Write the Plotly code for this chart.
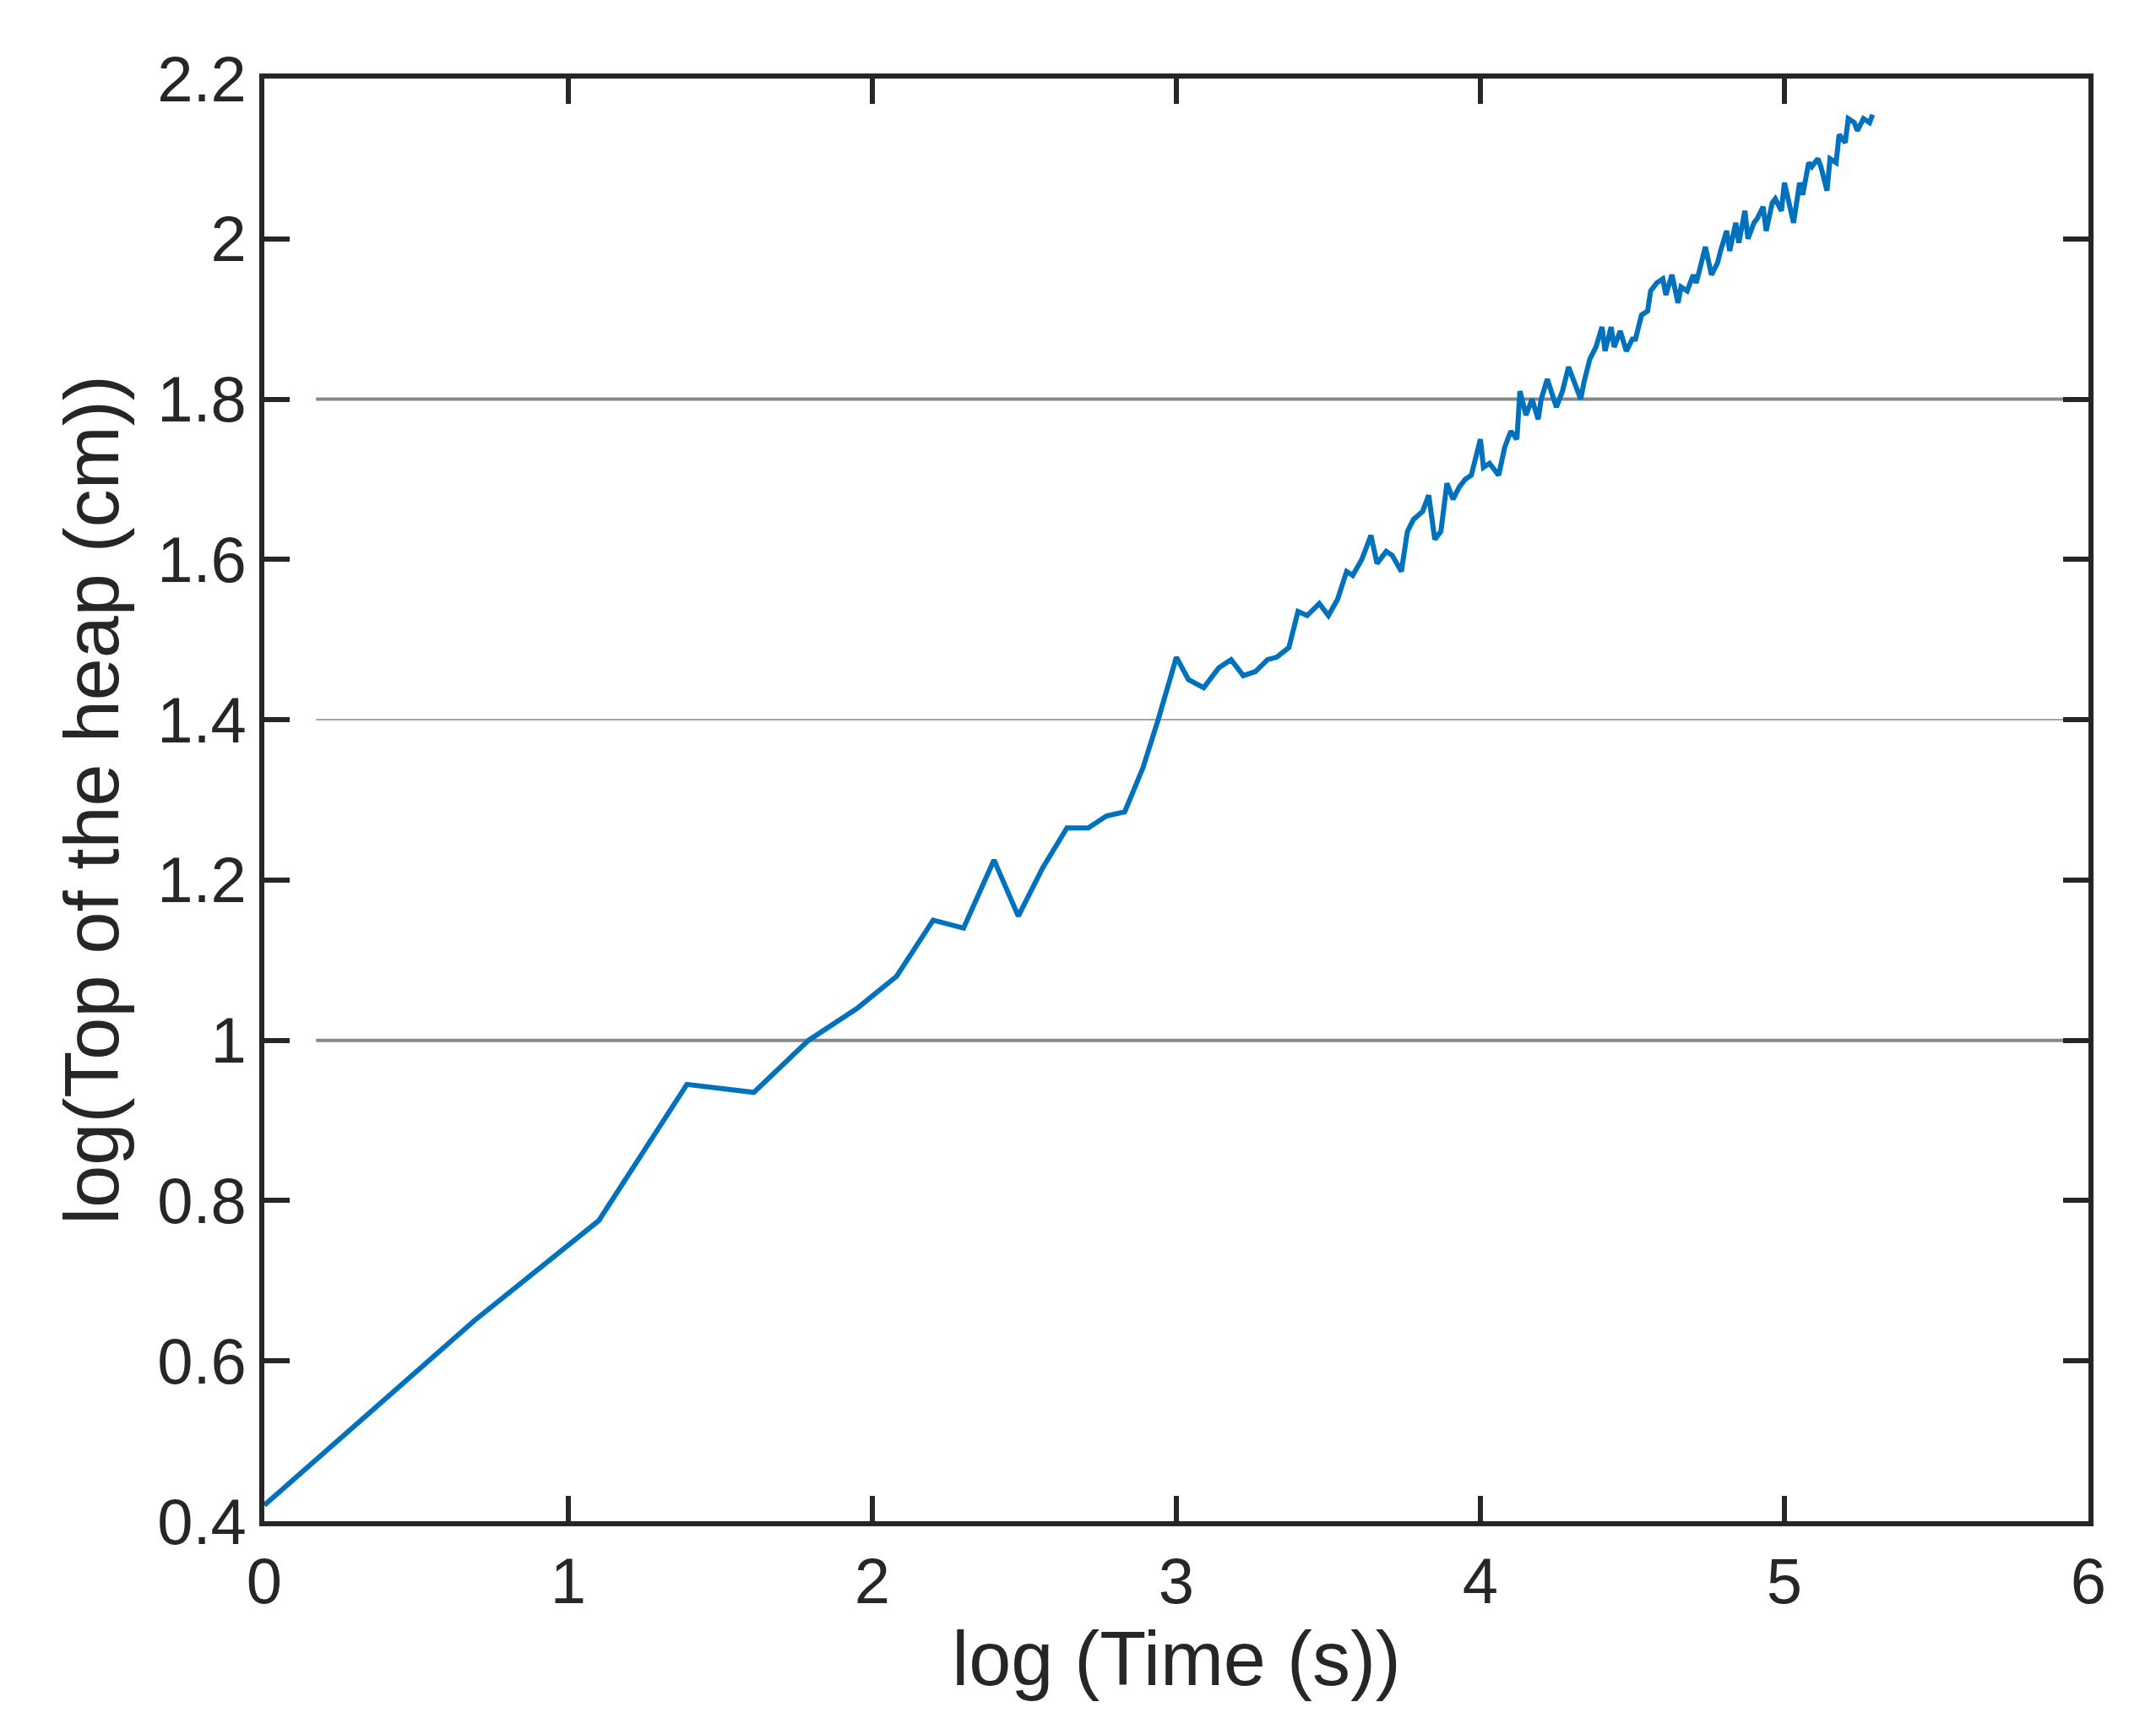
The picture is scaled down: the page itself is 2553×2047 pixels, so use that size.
import plotly.graph_objects as go

x_vals = [0, 0.69, 1.10, 1.39, 1.61, 1.79, 1.95, 2.08, 2.20, 2.30, 2.40, 2.48, 2.56, 2.64, 2.71, 2.77, 2.83, 2.89, 2.94, 3.00,
          3.04, 3.09, 3.14, 3.18, 3.22, 3.26, 3.30, 3.33, 3.37, 3.40, 3.43, 3.47, 3.50, 3.53, 3.56, 3.58, 3.61, 3.64, 3.66,
          3.69, 3.71, 3.74, 3.76, 3.78, 3.81, 3.83, 3.85, 3.87, 3.89, 3.91, 3.93,
          3.95,3.97,4.0,4.01,4.03,4.06,4.08,4.1,4.12,4.13,4.15,4.17,4.19,4.2,4.22,4.25,4.27,4.29,4.3,4.33,4.34,4.36,4.38,4.4,
          4.41,4.43,4.44,4.46,4.48,4.5,4.51,4.53,4.55,4.56,4.58,4.6,4.61,4.63,4.65,4.66,4.68,4.7,4.71,4.73,4.74,4.76,4.78,4.79,
          4.81,4.82,4.84,4.85,4.87,4.88,4.9,4.91,4.93,4.94,4.96,4.97,4.99,5.0,5.02,5.03,5.05,5.06,5.08,5.09,5.11,5.12,5.14,5.15,
          5.17,5.18,5.2,5.21,5.23,5.24,5.26,5.28,5.29]
y_vals = [0.42, 0.65, 0.775, 0.945, 0.935, 1.0, 1.04, 1.08, 1.15, 1.14, 1.225, 1.155, 1.215, 1.265, 1.265, 1.28, 1.285, 1.34, 1.40, 1.478,
          1.45, 1.44, 1.465, 1.475, 1.455, 1.46, 1.475, 1.478, 1.49, 1.535, 1.53, 1.545, 1.53, 1.55, 1.585, 1.58, 1.60, 1.63, 1.595,
          1.61, 1.605, 1.585, 1.635, 1.65, 1.66, 1.68, 1.625, 1.635, 1.695, 1.675, 1.69,
          1.70,1.705,1.75,1.715,1.72,1.705,1.74,1.76,1.75,1.81,1.78,1.80,1.775,1.80,1.825,1.79,1.81,1.84,1.83,1.80,1.82,1.85,1.865,1.89,
          1.86,1.89,1.865,1.885,1.86,1.875,1.875,1.905,1.91,1.935,1.945,1.95,1.93,1.955,1.92,1.94,1.935,1.955,1.945,1.975,1.99,1.955,1.97,1.985,
          2.01,1.985,2.02,1.995,2.035,2.0,2.02,2.025,2.04,2.01,2.045,2.05,2.035,2.07,2.04,2.02,2.07,2.055,2.095,2.09,2.10,2.09,2.06,2.10,
          2.095,2.13,2.12,2.15,2.145,2.135,2.15,2.145,2.155]

x_ticks = [0, 1, 2, 3, 4, 5, 6]
y_ticks = [0.4, 0.6, 0.8, 1.0, 1.2, 1.4, 1.6, 1.8, 2.0, 2.2]
y_ticktext = ["0.4", "0.6", "0.8", "1", "1.2", "1.4", "1.6", "1.8", "2", "2.2"]

fig = go.Figure()
fig.add_trace(go.Scatter(x=x_vals, y=y_vals, mode="lines", line=dict(color="#0072BD", width=6)))

for yv, w in [(1.0, 4), (1.4, 1.5), (1.8, 4)]:
    fig.add_shape(type="line", xref="x", yref="y", x0=0.17, x1=6, y0=yv, y1=yv,
                  line=dict(color="#888888", width=w), layer="below")

font = "Liberation Sans, Arial"
axis_common = dict(showline=True, linecolor="#262626", linewidth=6, mirror="ticks", ticks="inside",
                   ticklen=30, tickwidth=6, tickcolor="#262626", showgrid=False, zeroline=False,
                   tickfont=dict(family=font, size=76, color="#262626"))
fig.update_xaxes(range=[0, 6], tickvals=x_ticks,
                 title=dict(text="log (Time (s))", font=dict(family=font, size=90, color="#262626"), standoff=8), **axis_common)
fig.update_yaxes(range=[0.4, 2.2], tickvals=y_ticks, ticktext=y_ticktext,
                 title=dict(text="log(Top of the heap (cm))", font=dict(family=font, size=90, color="#262626"), standoff=18), **axis_common)
fig.update_layout(width=2553, height=2047, margin=dict(l=305, r=88, t=85, b=254),
                  plot_bgcolor="white", paper_bgcolor="white", showlegend=False)
fig.write_html("out.html")
